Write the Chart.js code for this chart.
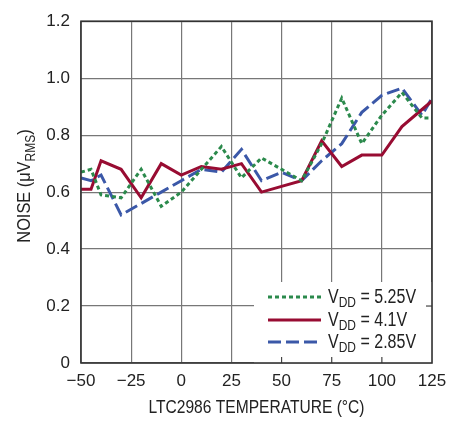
<!DOCTYPE html>
<html>
<head>
<meta charset="utf-8">
<script src="https://cdn.jsdelivr.net/npm/chart.js@4"></script>
<style>
	html, body { margin: 0; padding: 0; background: #fff; }
</style>
</head>
<body>
<canvas id="chart" width="465" height="423"></canvas>
<script>
const temps = [-50, -45, -40, -30, -20, -10, 0, 10, 20, 30, 40, 50, 60, 70, 80, 90, 100, 110, 120, 125];
const noise525 = [0.67, 0.68, 0.59, 0.58, 0.68, 0.55, 0.60, 0.68, 0.76, 0.65, 0.72, 0.68, 0.64, 0.77, 0.93, 0.77, 0.87, 0.95, 0.86, 0.86];
const noise41 = [0.61, 0.61, 0.71, 0.68, 0.58, 0.70, 0.66, 0.69, 0.68, 0.70, 0.60, 0.62, 0.64, 0.78, 0.69, 0.73, 0.73, 0.83, 0.89, 0.92];
const noise285 = [0.65, 0.64, 0.66, 0.52, 0.56, 0.60, 0.64, 0.68, 0.67, 0.75, 0.64, 0.67, 0.64, 0.71, 0.77, 0.88, 0.94, 0.965, 0.87, 0.93];
const xTicks = [-50, -25, 0, 25, 50, 75, 100, 125];
const yTicks = [0, 0.2, 0.4, 0.6, 0.8, 1.0, 1.2];
const legendLabels = ['5.25V', '4.1V', '2.85V'];

const FONT = "'Liberation Sans Narrow', 'Liberation Sans', Arial, sans-serif";
const GREEN = '#2b8a4c';
const RED = '#980c32';
const BLUE = '#3b58a8';

function pts(ys) {
	return temps.map((t, i) => ({ x: t, y: ys[i] }));
}

// draws text pieces (some as subscripts), squeezed by sx to look condensed
function drawParts(ctx, x, y, parts, size, sx) {
	ctx.save();
	ctx.translate(x, y);
	ctx.scale(sx, 1);
	let cx = 0;
	parts.forEach(p => {
		let s = p.sub ? Math.round(size * 0.74) : size;
		ctx.font = s + 'px ' + FONT;
		ctx.fillText(p.t, cx, p.sub ? size * 0.3 : 0);
		cx += ctx.measureText(p.t).width;
	});
	ctx.restore();
	return cx * sx;
}

function partsWidth(ctx, parts, size, sx) {
	let w = 0;
	parts.forEach(p => {
		let s = p.sub ? Math.round(size * 0.74) : size;
		ctx.font = s + 'px ' + FONT;
		w += ctx.measureText(p.t).width;
	});
	return w * sx;
}

const extras = {
	id: 'extras',
	afterDatasetsDraw(chart) {
		const ctx = chart.ctx;
		const a = chart.chartArea;
		const xs = chart.scales.x;
		const ys = chart.scales.y;
		ctx.save();

		// legend box covering the grid
		ctx.fillStyle = '#fff';
		ctx.fillRect(254, 282, a.right - 254, a.bottom - 282);
		ctx.strokeStyle = '#444';
		ctx.lineWidth = 1.2;
		xTicks.forEach(v => {
			let px = xs.getPixelForValue(v);
			if (px > 254 && px < a.right - 1) {
				ctx.beginPath();
				ctx.moveTo(px, a.bottom);
				ctx.lineTo(px, a.bottom - 6);
				ctx.stroke();
			}
		});
		let py = ys.getPixelForValue(0.2);
		ctx.beginPath();
		ctx.moveTo(a.right, py);
		ctx.lineTo(a.right - 6, py);
		ctx.stroke();

		const rows = [
			{ y: 297, color: GREEN, dash: [4, 3], text: legendLabels[0] },
			{ y: 320, color: RED, dash: [], text: legendLabels[1] },
			{ y: 342, color: BLUE, dash: [13, 5], text: legendLabels[2] }
		];
		rows.forEach(r => {
			ctx.strokeStyle = r.color;
			ctx.lineWidth = 3;
			ctx.setLineDash(r.dash);
			ctx.beginPath();
			ctx.moveTo(268, r.y);
			ctx.lineTo(321, r.y);
			ctx.stroke();
			ctx.setLineDash([]);
			ctx.fillStyle = '#222';
			ctx.textBaseline = 'middle';
			ctx.textAlign = 'left';
			drawParts(ctx, 328, r.y, [{ t: 'V' }, { t: 'DD', sub: true }, { t: ' = ' + r.text }], 20, 0.8);
		});

		// frame
		ctx.strokeStyle = '#333';
		ctx.lineWidth = 1.6;
		ctx.strokeRect(a.left, a.top, a.right - a.left, a.bottom - a.top);

		// axis titles
		ctx.fillStyle = '#222';
		ctx.textBaseline = 'middle';
		ctx.textAlign = 'left';
		const xt = [{ t: 'LTC2986 TEMPERATURE (°C)' }];
		let wx = partsWidth(ctx, xt, 19, 0.82);
		drawParts(ctx, (a.left + a.right) / 2 - wx / 2, 408, xt, 19, 0.82);

		const yt = [{ t: 'NOISE (μV' }, { t: 'RMS', sub: true }, { t: ')' }];
		ctx.translate(25, 186);
		ctx.rotate(-Math.PI / 2);
		let w = partsWidth(ctx, yt, 19, 0.86);
		drawParts(ctx, -w / 2, 0, yt, 19, 0.86);
		ctx.restore();
	}
};

const ctx = document.getElementById('chart').getContext('2d');
const myChart = new Chart(ctx, {
	type: 'line',
	data: {
		datasets: [
			{ data: pts(noise525), borderColor: GREEN, borderWidth: 3, borderDash: [4, 3] },
			{ data: pts(noise41), borderColor: RED, borderWidth: 3 },
			{ data: pts(noise285), borderColor: BLUE, borderWidth: 3, borderDash: [13, 5] }
		]
	},
	options: {
		responsive: false,
		animation: false,
		devicePixelRatio: 1,
		layout: { padding: { top: 12, right: 33, left: 0, bottom: 0 } },
		elements: { point: { radius: 0 }, line: { tension: 0, borderJoinStyle: 'miter' } },
		plugins: { legend: { display: false }, tooltip: { enabled: false } },
		scales: {
			x: {
				type: 'linear',
				min: -50,
				max: 125,
				afterBuildTicks: s => { s.ticks = xTicks.map(v => ({ value: v })); },
				afterFit: s => { s.height = 60; },
				grid: { color: '#777', lineWidth: 1.2, drawTicks: false },
				border: { display: false },
				ticks: {
					padding: 8,
					color: '#222',
					font: { family: FONT, size: 17 },
					callback: v => v < 0 ? '\u2212' + Math.abs(v) : String(v)
				}
			},
			y: {
				min: 0,
				max: 1.2,
				afterBuildTicks: s => { s.ticks = yTicks.map(v => ({ value: v })); },
				afterFit: s => { s.width = 81; },
				grid: { color: '#777', lineWidth: 1.2, drawTicks: false },
				border: { display: false },
				ticks: {
					padding: 11,
					color: '#222',
					font: { family: FONT, size: 17 },
					callback: v => v === 0 ? '0' : v.toFixed(1)
				}
			}
		}
	},
	plugins: [extras]
});
</script>
</body>
</html>
